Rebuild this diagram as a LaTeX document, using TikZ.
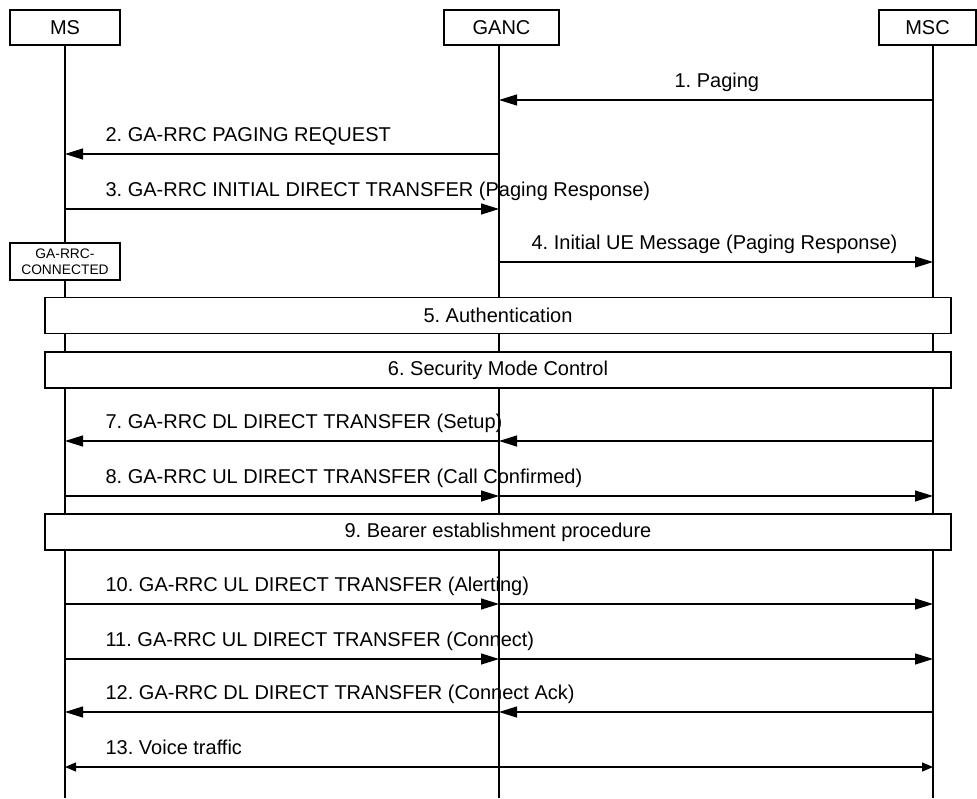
\documentclass[tikz,border=0pt]{standalone}
\usepackage{fontspec}
\setmainfont{Liberation Sans}
\usetikzlibrary{arrows.meta}
\frenchspacing

\begin{document}
\begin{tikzpicture}[
  x=1pt, y=-1pt,
  line width=1.2pt,
  ent/.style={draw, fill=white, inner sep=0pt, minimum height=35pt,
    font=\fontsize{20}{22}\selectfont},
  proc/.style={draw, fill=white, inner sep=0pt, minimum width=906pt,
    minimum height=36pt, font=\fontsize{20}{22}\selectfont},
  state/.style={draw, fill=white, inner sep=0pt, minimum width=110pt,
    minimum height=37pt, align=center, font=\fontsize{13.8}{15.5}\selectfont},
  lbl/.style={anchor=base west, inner sep=0pt, font=\fontsize{20}{22}\selectfont},
  msg/.style={-{Triangle[length=18pt, width=11pt]}},
  both/.style={{Triangle[length=11pt, width=9pt]}-{Triangle[length=11pt, width=9pt]}}
]
\useasboundingbox (0,0) rectangle (977,798);

% entities
\node[ent, minimum width=110pt] (ms) at (65,27.5) {MS};
\node[ent, minimum width=115pt] (ganc) at (501.5,27.5) {GANC};
\node[ent, minimum width=97pt] (msc) at (927.5,27.5) {MSC};

\coordinate (msl) at (65,45);
\coordinate (gancl) at (499,45);
\coordinate (mscl) at (933,45);
\coordinate (bottom) at (0,798);

% lifelines
\foreach \l in {msl, gancl, mscl}
  \draw (\l) -- (\l |- bottom);

% message rows
\coordinate (m1) at (0,100);
\coordinate (m2) at (0,154);
\coordinate (m3) at (0,209);
\coordinate (m4) at (0,262);
\coordinate (m7) at (0,441);
\coordinate (m8) at (0,496);
\coordinate (m10) at (0,604);
\coordinate (m11) at (0,659);
\coordinate (m12) at (0,712);
\coordinate (m13) at (0,767);

\draw[msg] (mscl |- m1) -- (gancl |- m1);
\node[lbl] (l1) at (674,87) {1. Paging};

\draw[msg] (gancl |- m2) -- (msl |- m2);
\node[lbl] (l2) at (105,141) {2. GA-RRC PAGING REQUEST};

\draw[msg] (msl |- m3) -- (gancl |- m3);
\node[lbl] (l3) at (105,196) {3. GA-RRC INITIAL DIRECT TRANSFER (Paging Response)};

\draw[msg] (gancl |- m4) -- (mscl |- m4);
\node[lbl] (l4) at (531,249) {4. Initial UE Message (Paging Response)};

\node[state] (conn) at (65,261.5) {GA-RRC-\\CONNECTED};

% procedures
\node[proc] (auth) at (498,315.5) {5. Authentication};
\node[proc] (smc) at (498,370) {6. Security Mode Control};

\draw[msg] (mscl |- m7) -- (gancl |- m7);
\draw[msg] (gancl |- m7) -- (msl |- m7);
\node[lbl] (l7) at (105,428) {7. GA-RRC DL DIRECT TRANSFER (Setup)};

\draw[msg] (msl |- m8) -- (gancl |- m8);
\draw[msg] (gancl |- m8) -- (mscl |- m8);
\node[lbl] (l8) at (105,483) {8. GA-RRC UL DIRECT TRANSFER (Call Confirmed)};

\node[proc] (bearer) at (498,532) {9. Bearer establishment procedure};

\draw[msg] (msl |- m10) -- (gancl |- m10);
\draw[msg] (gancl |- m10) -- (mscl |- m10);
\node[lbl] (l10) at (105,591) {10. GA-RRC UL DIRECT TRANSFER (Alerting)};

\draw[msg] (msl |- m11) -- (gancl |- m11);
\draw[msg] (gancl |- m11) -- (mscl |- m11);
\node[lbl] (l11) at (105,646) {11. GA-RRC UL DIRECT TRANSFER (Connect)};

\draw[msg] (mscl |- m12) -- (gancl |- m12);
\draw[msg] (gancl |- m12) -- (msl |- m12);
\node[lbl] (l12) at (105,699) {12. GA-RRC DL DIRECT TRANSFER (Connect Ack)};

\draw[both] (msl |- m13) -- (mscl |- m13);
\node[lbl] (l13) at (105,754) {13. Voice traffic};
\end{tikzpicture}
\end{document}
